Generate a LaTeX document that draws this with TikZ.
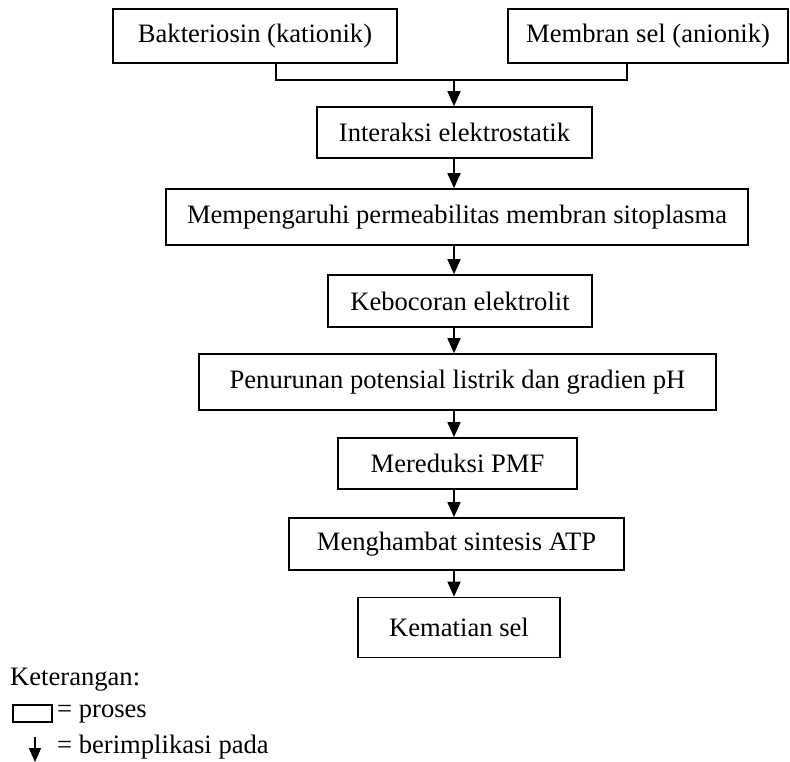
\documentclass[tikz,border=0pt]{standalone}
\usepackage{fontspec}
\setmainfont{Liberation Serif}
\usetikzlibrary{arrows.meta}
\begin{document}
\begin{tikzpicture}[x=1pt,y=-1pt,
  every node/.style={font=\fontsize{26.6}{30}\selectfont, inner sep=0pt},
  box/.style={draw, line width=1.6pt, minimum height=#1},
  box/.default=52pt,
  arr/.style={line width=1.6pt, -{Triangle[length=15pt,width=13pt]}},
  lnk/.style={line width=1.6pt}
]
\useasboundingbox (0,0) rectangle (790,762);
\node[box=54pt, minimum width=284pt] (b1) at (255,36) {Bakteriosin (kationik)};
\node[box=54pt, minimum width=280pt] (b2) at (648,36) {Membran sel (anionik)};
\node[box=51pt, minimum width=275pt] (n1) at (454.5,132.5) {Interaksi elektrostatik};
\node[box=56pt, minimum width=582pt] (n2) at (457,217) {Mempengaruhi permeabilitas membran sitoplasma};
\node[box=52pt, minimum width=264pt] (n3) at (460,301) {Kebocoran elektrolit};
\node[box=56pt, minimum width=517pt] (n4) at (457.5,382) {Penurunan potensial listrik dan gradien pH};
\node[box=51pt, minimum width=239pt] (n5) at (457.5,463.5) {Mereduksi PMF};
\node[box=52pt, minimum width=335pt] (n6) at (456.5,544) {Menghambat sintesis ATP};
\node[box=60pt, minimum width=202pt] (n7) at (459,627.5) {Kematian sel};
% junction
\coordinate (jl) at (276,80);
\coordinate (jr) at (627,80);
\coordinate (jm) at (454,80);
\draw[lnk] (b1.south -| jl) -- (jl) -- (jr) -- (b2.south -| jr);
\draw[arr] (jm) -- (n1.north -| jm);
\draw[arr] (n1.south -| jm) -- (n2.north -| jm);
\draw[arr] (n2.south -| jm) -- (n3.north -| jm);
\draw[arr] (n3.south -| jm) -- (n4.north -| jm);
\draw[arr] (n4.south -| jm) -- (n5.north -| jm);
\draw[arr] (n5.south -| jm) -- (n6.north -| jm);
\draw[arr] (n6.south -| jm) -- (n7.north -| jm);
% legend
\node[anchor=base west] (ket) at (10,685) {Keterangan:};
\node[draw, line width=1.4pt, minimum width=39pt, minimum height=17pt] (lbox) at (32.5,713.5) {};
\node[anchor=base west] (lproses) at (57,717) {= proses};
\coordinate (la1) at (35,737);
\coordinate (la2) at (35,762);
\draw[line width=1.6pt, -{Triangle[length=14pt,width=12pt]}] (la1) -- (la2);
\node[anchor=base west] (limpl) at (57,753) {= berimplikasi pada};
\end{tikzpicture}
\end{document}
